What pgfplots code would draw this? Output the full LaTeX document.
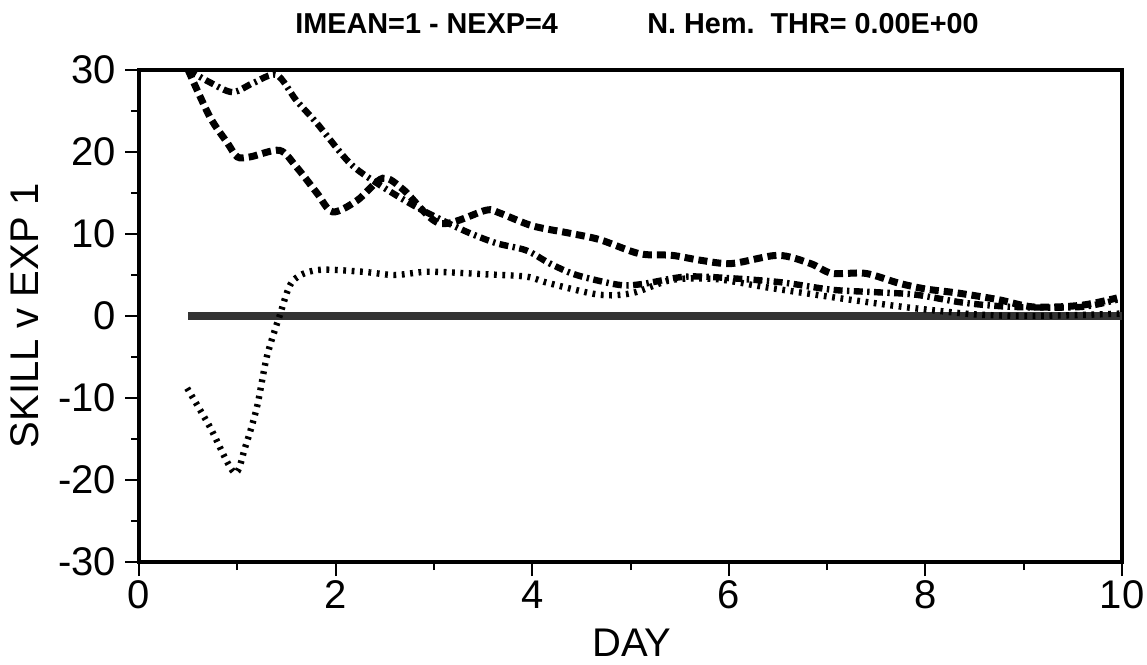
\documentclass[border=0pt]{standalone}
\usepackage{fontspec}
\setmainfont{Liberation Sans}
\newfontfamily\titlefont{Liberation Sans Bold}
\usepackage{pgfplots}
\pgfplotsset{compat=1.18}
\begin{document}
\begin{tikzpicture}
\useasboundingbox (-69.5bp,-51.5bp) rectangle (504bp,281bp);
\begin{axis}[
  at={(0,0)}, anchor=south west,
  scale only axis, width=491.5bp, height=246bp,
  xmin=0, xmax=10, ymin=-30, ymax=30,
  clip mode=individual,
  axis line style={line width=2.2bp},
  xtick={0,2,...,10}, minor xtick={1,3,5,7,9},
  ytick={-30,-20,...,30}, minor ytick={-25,-15,...,25},
  xtick pos=bottom, ytick pos=left,
  tick align=outside,
  major tick length=7bp, minor tick length=4bp,
  tick style={line width=1bp, black},
  /pgf/number format/assume math mode=true,
  ticklabel style={font=\fontsize{20bp}{23bp}\selectfont},
  yticklabel style={xshift=-1bp},
  xticklabel style={yshift=1bp},
]
\addplot[black!80, line width=3.6bp] coordinates {(0.5,0) (10,0)};
% dashed
\addplot[black, line width=3.5bp, smooth, tension=0.5, dash pattern=on 4.5bp off 2.5bp] coordinates {
(0.5,30) (0.72,24.3) (0.9,21.1) (1.0,19.4) (1.13,19.4) (1.43,20.2) (1.6,18.2) (1.81,15.0) (1.97,12.7)
(2.22,14.1) (2.48,16.8) (2.69,15.4) (3.06,11.3) (3.53,12.9) (3.66,12.6) (4.0,11.0) (4.38,10.1)
(4.69,9.3) (5.09,7.6) (5.42,7.4) (5.71,6.8) (6.03,6.4) (6.5,7.4) (6.83,6.4) (7.05,5.2) (7.39,5.2)
(7.73,4.0) (8.0,3.3) (8.33,2.8) (8.74,2.0) (9.1,1.1) (9.58,1.3) (9.95,2.2)};
% dash-dot
\addplot[black, line width=3.2bp, smooth, tension=0.5, dash pattern=on 4.5bp off 2.2bp on 1.2bp off 2.2bp] coordinates {
(0.5,30) (0.72,28.5) (0.95,27.3) (1.16,28.4) (1.4,29.4) (1.6,26.3) (1.81,23.5) (2.14,18.7) (2.42,16.2)
(2.82,13.3) (3.29,10.5) (3.63,8.9) (3.94,8.0) (4.18,6.4) (4.45,5.0) (4.88,3.8) (5.12,3.9) (5.56,4.8)
(6.03,4.6) (6.54,4.1) (7.05,3.2) (7.5,2.9) (7.9,2.6) (8.4,1.6) (8.91,1.1) (9.58,1.1) (9.95,2.0)};
% dotted
\addplot[black, line width=3.2bp, smooth, tension=0.5, dash pattern=on 1.4bp off 2.8bp] coordinates {
(0.49,-8.8) (0.72,-13.5) (0.97,-19.1) (1.08,-16.0) (1.2,-11.1) (1.3,-5.0) (1.43,0) (1.56,4.2)
(1.81,5.6) (2.27,5.4) (2.6,5.0) (2.95,5.4) (3.5,5.1) (3.94,4.8) (4.17,4.0) (4.68,2.6) (5.02,2.8)
(5.42,4.4) (5.87,4.5) (6.38,3.5) (7.05,2.3) (7.65,1.3) (8.0,0.8) (8.5,0.2) (9.0,0.0) (9.5,0.1) (10,0.3)};
\node[anchor=base west, inner sep=0pt, font=\titlefont\fontsize{14.4bp}{16bp}\selectfont]
  at (rel axis cs:0.1587,1) [yshift=18.5bp] {IMEAN=1 - NEXP=4};
\node[anchor=base west, inner sep=0pt, font=\titlefont\fontsize{14.4bp}{16bp}\selectfont]
  at (rel axis cs:0.5168,1) [yshift=18.5bp] {N. Hem.\ \ THR= 0.00E+00};
\node[xshift=-57bp, rotate=90, anchor=center, inner sep=0pt, font=\fontsize{20bp}{23bp}\selectfont]
  at (rel axis cs:0,0.5) {SKILL v EXP 1};
\node[anchor=center, inner sep=0pt, font=\fontsize{20bp}{23bp}\selectfont]
  at (rel axis cs:0.5015,0) [yshift=-40.5bp] {DAY};
\end{axis}
\end{tikzpicture}
\end{document}
